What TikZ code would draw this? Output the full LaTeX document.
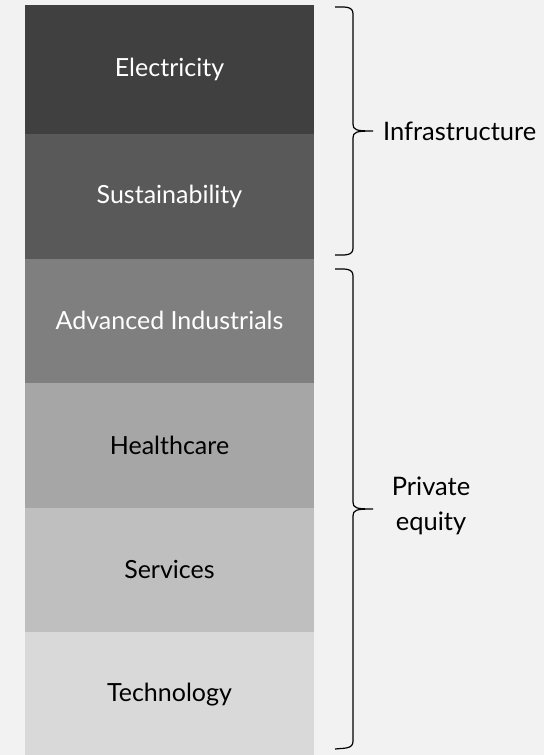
\documentclass[tikz,border=0pt]{standalone}
\usepackage{fontspec}
\setmainfont{Lato}
\definecolor{bg}{HTML}{F2F2F2}
\definecolor{c1}{HTML}{404040}
\definecolor{c2}{HTML}{595959}
\definecolor{c3}{HTML}{7F7F7F}
\definecolor{c4}{HTML}{A6A6A6}
\definecolor{c5}{HTML}{BFBFBF}
\definecolor{c6}{HTML}{D9D9D9}
\begin{document}
\begin{tikzpicture}[x=1pt,y=-1pt,
  band/.style={draw=none,minimum width=289pt,minimum height=124.5pt,inner sep=0pt,outer sep=0pt,anchor=north west,font=\fontsize{25}{29}\selectfont},
  lbl/.style={font=\fontsize{25.5}{35}\selectfont,inner sep=0pt,anchor=west,align=center},
  br/.style={line width=1.2pt,line join=round}]
\fill[bg] (0,0) rectangle (544,755);
\useasboundingbox (0,0) rectangle (544,755);
\node[band,fill=c1,text=white,minimum height=129pt] (b1) at (25,5) {Electricity};
\node[band,fill=c2,text=white] (b2) at (25,134) {Sustainability};
\node[band,fill=c3,text=white] (b3) at (25,258.5) {Advanced Industrials};
\node[band,fill=c4,text=black] (b4) at (25,383) {Healthcare};
\node[band,fill=c5,text=black] (b5) at (25,507.5) {Services};
\node[band,fill=c6,text=black] (b6) at (25,632) {Technology};
% braces
\coordinate (t1) at (373,131);
\coordinate (t2) at (373,509);
\draw[br] (335,7) .. controls (345,7) and (353,6) .. (353,14) -- (353,124) .. controls (353,130) and (356,131) .. (t1)
  (t1) .. controls (356,131) and (353,132) .. (353,138) -- (353,248) .. controls (353,256) and (345,255) .. (335,255);
\draw[br] (335,269) .. controls (345,269) and (353,268) .. (353,276) -- (353,502) .. controls (353,508) and (356,509) .. (t2)
  (t2) .. controls (356,509) and (353,510) .. (353,516) -- (353,741) .. controls (353,749) and (345,748) .. (335,749);
\node[lbl] (l1) at (383,131) {Infrastructure};
\node[lbl,anchor=center] (l2) at (431,506) {Private\\equity};
\end{tikzpicture}
\end{document}
